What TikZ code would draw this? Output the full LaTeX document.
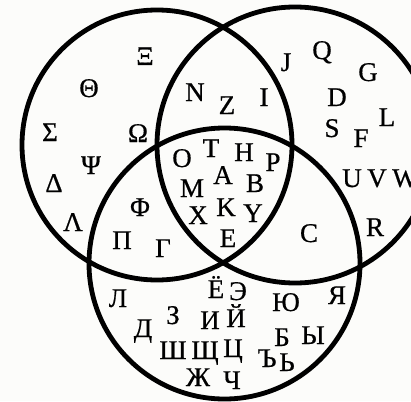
\documentclass[tikz,border=0pt]{standalone}
\usepackage{fontspec}
\setmainfont{Liberation Serif}[FakeBold=0.6]
\definecolor{bg}{RGB}{252,252,250}
\begin{document}
\begin{tikzpicture}[x=1pt,y=-1pt,
  ring/.style={line width=4.8pt, draw=black},
  lt/.style={inner sep=0pt, text height=18pt, text depth=0pt, font=\fontsize{27}{27}\selectfont}]
\fill[bg] (0,0) rectangle (411,401);
\useasboundingbox (0,0) rectangle (411,401);
\draw[ring] (157,145) circle (135);
\draw[ring] (295,145) circle (138);
\draw[ring] (224.5,263.5) circle (135.5);
% left only
\node[lt] (xi) at (145,56) {Ξ};
\node[lt] (th) at (89,88) {Θ};
\node[lt] (si) at (50,132) {Σ};
\node[lt] (om) at (138,133) {Ω};
\node[lt] (ps) at (91,165) {Ψ};
\node[lt] (de) at (54,183) {Δ};
\node[lt] (la) at (73,222) {Λ};
% left & bottom
\node[lt] (ph) at (140,207) {Φ};
\node[lt] (pi) at (122,240) {Π};
\node[lt] (ga) at (163,248) {Γ};
% left & right
\node[lt] (n) at (195,92) {N};
\node[lt] (z) at (227,105) {Z};
\node[lt] (i) at (264,97) {I};
% all three
\node[lt] (o) at (182,158) {O};
\node[lt] (t) at (211,148) {T};
\node[lt] (h) at (244,152) {H};
\node[lt] (p) at (273,162) {P};
\node[lt] (a) at (223,175) {A};
\node[lt] (m) at (192,188) {M};
\node[lt] (b) at (255,183) {B};
\node[lt] (k) at (226,207) {K};
\node[lt] (x) at (198,215) {X};
\node[lt] (y) at (253,213) {Y};
\node[lt] (e) at (228,238) {E};
% right only
\node[lt] (j) at (286,62) {J};
\node[lt] (q) at (322,50) {Q};
\node[lt] (g) at (368,72) {G};
\node[lt] (d) at (337,97) {D};
\node[lt] (l) at (387,117) {L};
\node[lt] (s) at (332,128) {S};
\node[lt] (f) at (361,138) {F};
\node[lt] (u) at (352,178) {U};
\node[lt] (v) at (377,178) {V};
\node[lt] (w) at (405,178) {W};
\node[lt] (r) at (375,227) {R};
% right & bottom
\node[lt] (c) at (309,233) {C};
% bottom only
\node[lt] (cl) at (118,298) {Л};
\node[lt] (cyo) at (216,289) {Ё};
\node[lt] (ce) at (238,291) {Э};
\node[lt] (cyu) at (286,302) {Ю};
\node[lt] (cya) at (337,295) {Я};
\node[lt] (cz) at (173,315) {З};
\node[lt] (ci) at (210,320) {И};
\node[lt] (cj) at (236,318) {Й};
\node[lt] (cd) at (143,328) {Д};
\node[lt] (cb) at (282,337) {Б};
\node[lt] (cy) at (313,335) {Ы};
\node[lt] (csh) at (173,350) {Ш};
\node[lt] (cshch) at (205,350) {Щ};
\node[lt] (cts) at (233,348) {Ц};
\node[lt] (chard) at (267,358) {Ъ};
\node[lt] (csoft) at (287,362) {Ь};
\node[lt] (czh) at (198,377) {Ж};
\node[lt] (cch) at (232,380) {Ч};
\end{tikzpicture}
\end{document}
